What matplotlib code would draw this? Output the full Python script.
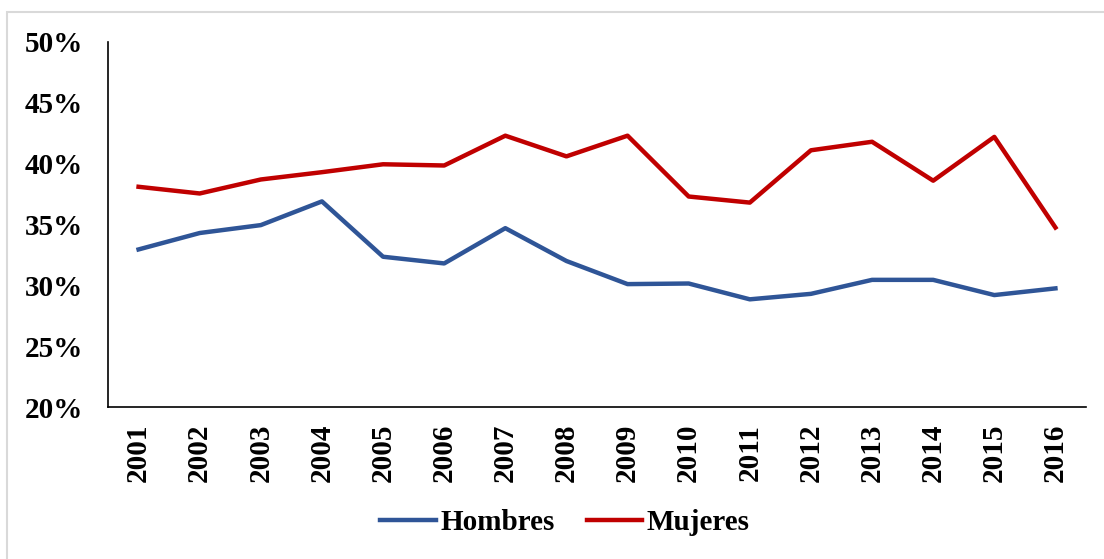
import matplotlib as mpl
from matplotlib import pyplot as plt
from matplotlib.patches import Rectangle
from matplotlib.ticker import PercentFormatter

mpl.rcParams.update({'font.family': ['Liberation Serif', 'DejaVu Serif'],
                     'font.weight': 'bold', 'font.size': 21})

years = ['2001', '2002', '2003', '2004', '2005', '2006', '2007', '2008',
         '2009', '2010', '2011', '2012', '2013', '2014', '2015', '2016']
hombres = [32.95, 34.3, 34.95, 36.9, 32.35, 31.8, 34.7, 32.0,
           30.1, 30.15, 28.85, 29.3, 30.45, 30.45, 29.2, 29.75]
mujeres = [38.1, 37.55, 38.7, 39.3, 39.95, 39.85, 42.3, 40.6,
           42.3, 37.3, 36.8, 41.1, 41.8, 38.6, 42.2, 34.75]

BLUE = '#2F5597'
RED = '#C00000'

fig = plt.figure(figsize=(11.04, 5.59), dpi=100)
# light grey frame around the chart area
fig.patches.append(Rectangle((7 / 1104, -0.1), 1.2, 1 - 12 / 559 + 0.1,
                             transform=fig.transFigure, fill=False,
                             edgecolor='#d9d9d9', linewidth=1.5))

ax = fig.add_axes([108 / 1104, 1 - 407 / 559, (1086 - 108) / 1104, (407 - 42) / 559])
x = range(len(years))
ax.plot(x, hombres, color=BLUE, linewidth=3.2, label='Hombres')
ax.plot(x, mujeres, color=RED, linewidth=3.2, label='Mujeres')

ax.set_xlim(-0.5, len(years) - 0.5)
ax.set_ylim(20, 50)
ax.set_yticks(range(20, 51, 5))
ax.yaxis.set_major_formatter(PercentFormatter(decimals=0))
ax.set_xticks(list(x))
ax.set_xticklabels(years, rotation=90)
ax.tick_params(axis='y', length=0, pad=18)
ax.tick_params(axis='x', length=0, pad=12)
for side in ['top', 'right']:
    ax.spines[side].set_visible(False)
ax.spines['left'].set_linewidth(1.2)
ax.spines['bottom'].set_linewidth(1.2)

fig.legend(loc='center', bbox_to_anchor=(565 / 1104, 1 - 523 / 559), ncol=2,
           frameon=False, handlelength=1.9, handletextpad=0.15,
           columnspacing=1.1, fontsize=21)

fig.savefig('out.png', dpi=100)
